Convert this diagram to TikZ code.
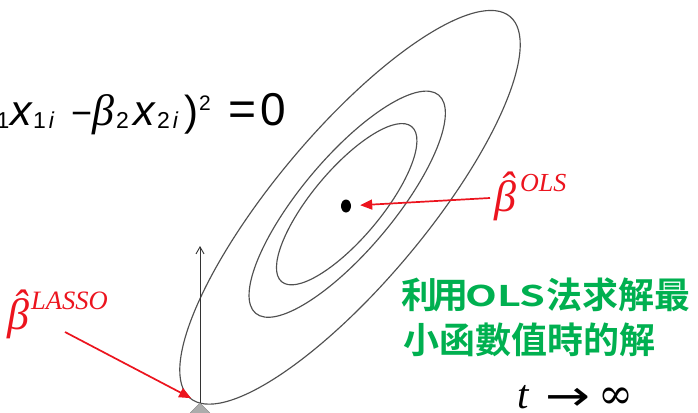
\documentclass[tikz,border=0pt]{standalone}
\usepackage{graphicx}
\usepackage{fontspec}
\setmainfont{Liberation Sans}
\newfontfamily\serifgr{Liberation Serif}
\newfontfamily\symfont{DejaVu Serif}
\newfontfamily\arrowfont{DejaVu Sans}
\newfontfamily\cjk{Noto Sans CJK TC}[BoldFont={Noto Sans CJK TC Bold}]
\usetikzlibrary{arrows.meta,shapes.geometric}
\definecolor{lblred}{RGB}{236,20,30}
\definecolor{txtgreen}{RGB}{0,176,80}
\definecolor{contour}{RGB}{80,80,80}
\newcommand\fsz[1]{\fontsize{#1}{#1}\selectfont}
\newcommand\betahat{{\fsz{44}\serifgr\itshape\ooalign{β\cr\hidewidth\hspace*{3pt}\raisebox{9pt}{ˆ}\hidewidth\cr}}}
\tikzset{
  contourline/.style={draw=contour, line width=1.15pt},
  axisline/.style={draw=black!80, line width=0.9pt, -{Straight Barb[length=7pt,width=8pt]}},
  redarrow/.style={draw=lblred, line width=1.7pt, -{Triangle[length=12pt,width=10pt]}},
  redlabel/.style={anchor=base west, inner sep=0pt, text=lblred},
  greentext/.style={anchor=base west, inner sep=0pt, text=txtgreen, font=\cjk\bfseries\fsz{36}},
  eqnode/.style={anchor=base west, inner sep=0pt, text=black},
}
\begin{document}
\begin{tikzpicture}[x=1pt,y=-1pt]
\useasboundingbox (0,0) rectangle (698,412);
\fill[white] (0,0) rectangle (698,412);
% level sets
\draw[contourline, rotate around={50:(350,207.3)}] (350,207.3) ellipse [x radius=249pt, y radius=75.5pt];
\draw[contourline, rotate around={50:(347.2,204.2)}] (347.2,204.2) ellipse [x radius=142.4pt, y radius=46.2pt];
\draw[contourline, rotate around={50:(346.7,204.2)}] (346.7,204.2) ellipse [x radius=101.2pt, y radius=34.5pt];
% OLS point
\node[ellipse, fill=black, minimum width=10pt, minimum height=13pt, inner sep=0pt] (dot) at (346,206) {};
% axis and constraint region
\node[diamond, fill=gray!65, draw=gray!85, minimum width=28pt, minimum height=28pt, inner sep=0pt] (lassoregion) at (200,417) {};
\coordinate (axtop) at (200,246);
\draw[axisline] (lassoregion.center) -- (axtop);
\node[diamond, fill=gray!65, draw=gray!85, minimum width=28pt, minimum height=28pt, inner sep=0pt] at (lassoregion.center) {};
% equation
\node[eqnode] (eqn) at (0,125) {%
\rlap{\hspace*{-3.5pt}\raisebox{-3pt}{\fsz{23}1}}%
\rlap{\hspace*{10pt}\fsz{43}\itshape x}%
\rlap{\hspace*{33pt}\raisebox{-3pt}{\fsz{23}1\hspace{3pt}\itshape i}}%
\rlap{\hspace*{71pt}\fsz{36}−}%
\rlap{\hspace*{92pt}\fsz{44}\serifgr\itshape β}%
\rlap{\hspace*{116pt}\raisebox{-3pt}{\fsz{23}2}}%
\rlap{\hspace*{133pt}\fsz{43}\itshape x}%
\rlap{\hspace*{157pt}\raisebox{-3pt}{\fsz{23}2\hspace{3pt}\itshape i}}%
\rlap{\hspace*{184pt}\fsz{42})}%
\rlap{\hspace*{199pt}\raisebox{15pt}{\fsz{21}2}}%
\rlap{\hspace*{228pt}\fsz{48}=}%
\rlap{\hspace*{260pt}\fsz{46}0}%
\hspace*{282pt}};
% labels
\node[redlabel] (ols) at (494,211) {\betahat\hspace{4pt}\raisebox{20pt}{\fsz{26}\serifgr\itshape OLS}};
\node[redlabel] (lasso) at (7,329) {\betahat\hspace{2pt}\raisebox{20pt}{\fsz{26.5}\serifgr\itshape LASSO}};
\coordinate (olstail) at (490,198);
\coordinate (lassotail) at (65,332);
\draw[redarrow, shorten >=9pt] (olstail) -- (dot);
\draw[redarrow, shorten >=10pt] (lassotail) -- (lassoregion.north);
% green note
\node[greentext] (note1) at (401,308) {利\hspace{-5pt}用\hspace{-3pt}\raisebox{2pt}{\scalebox{1.45}[1]{\fsz{28.5}OLS}}\hspace{1pt}法求解最};
\node[greentext] (note2) at (403,353.7) {小函數值時的解};
% limit
\node[eqnode] (limit) at (517,408) {%
\rlap{\fsz{41}\serifgr\itshape t}%
\rlap{\hspace*{28pt}\raisebox{-2pt}{\resizebox{45pt}{\height}{\fsz{42}\arrowfont →}}}%
\rlap{\hspace*{81pt}\fsz{42}\symfont ∞}%
\hspace*{120pt}};
\end{tikzpicture}
\end{document}
